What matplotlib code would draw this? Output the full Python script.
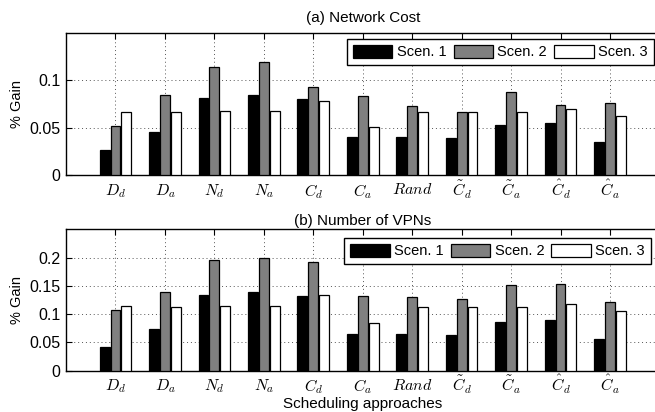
import matplotlib
matplotlib.use("Agg")
import matplotlib.pyplot as plt
from matplotlib.transforms import ScaledTranslation
import numpy as np

plt.rcParams['font.family'] = ['Liberation Sans', 'DejaVu Sans']
plt.rcParams['mathtext.fontset'] = 'cm'

categories = [r'$D_d$', r'$D_a$', r'$N_d$', r'$N_a$', r'$C_d$', r'$C_a$', r'$Rand$',
              r'$\tilde{C}_d$', r'$\tilde{C}_a$', r'$\hat{C}_d$', r'$\hat{C}_a$']
series_names = ['Scen. 1', 'Scen. 2', 'Scen. 3']

cost_s1 = [0.026, 0.0456, 0.0816, 0.0848, 0.080, 0.0406, 0.040, 0.039, 0.0527, 0.0551, 0.035]
cost_s2 = [0.052, 0.0848, 0.1145, 0.1194, 0.093, 0.0837, 0.073, 0.067, 0.0876, 0.0742, 0.076]
cost_s3 = [0.067, 0.067, 0.0675, 0.0675, 0.0777, 0.0509, 0.067, 0.067, 0.067, 0.0696, 0.062]

vpn_s1 = [0.0413, 0.0737, 0.1345, 0.140, 0.1316, 0.065, 0.065, 0.0625, 0.0855, 0.0897, 0.056]
vpn_s2 = [0.108, 0.140, 0.196, 0.1994, 0.1917, 0.1327, 0.131, 0.127, 0.151, 0.1528, 0.121]
vpn_s3 = [0.114, 0.113, 0.114, 0.1145, 0.1333, 0.085, 0.113, 0.113, 0.113, 0.1186, 0.105]

cost_yticks = [0, 0.05, 0.1]
cost_yticklabels = ['0', '0.05', '0.1']
vpn_yticks = [0, 0.05, 0.1, 0.15, 0.2]
vpn_yticklabels = ['0', '0.05', '0.1', '0.15', '0.2']

colors = ['black', '#808080', 'white']

fig = plt.figure(figsize=(6.55, 4.12), dpi=100)
ax1 = fig.add_axes([0.1008, 0.5752, 0.906, 0.3447])
ax2 = fig.add_axes([0.1008, 0.1002, 0.906, 0.3432])

x = np.arange(1, len(categories) + 1)
w = 0.2
offs = [-0.22, 0.0, 0.22]

def draw(ax, data, ylim, yticks, yticklabels, title, legpad, tpad):
    for i, (vals, c, name) in enumerate(zip(data, colors, series_names)):
        ax.bar(x + offs[i], vals, width=w, color=c, edgecolor='black', linewidth=0.9,
               label=name, zorder=3)
    ax.set_xlim(0, 12)
    ax.set_ylim(*ylim)
    ax.set_xticks(x)
    ax.set_xticklabels(categories, fontsize=11.5)
    ax.set_yticks(yticks)
    ax.set_yticklabels(yticklabels, fontsize=11.5)
    ax.tick_params(direction='in', top=True, right=False, length=4, width=0.8)
    ax.tick_params(axis='x', pad=5)
    ax.tick_params(axis='y', pad=4)
    ax.grid(True, linestyle=(0, (1, 3)), color='#555555', linewidth=0.7)
    ax.set_axisbelow(True)
    for s in ax.spines.values():
        s.set_linewidth(1.0)
    ax.set_title(title, fontsize=11, pad=tpad)
    ax.set_ylabel('% Gain', fontsize=10.5, labelpad=4)
    leg = ax.legend(loc='upper right', bbox_to_anchor=(1, 1), ncol=3, fontsize=10.5,
                    handlelength=2.7, handleheight=1.0, handletextpad=0.3,
                    columnspacing=0.5, borderaxespad=legpad, borderpad=0.4,
                    fancybox=False, framealpha=1, edgecolor='black')
    leg.get_frame().set_linewidth(1.0)

draw(ax1, [cost_s1, cost_s2, cost_s3], (0, 0.15), cost_yticks, cost_yticklabels,
     '(a) Network Cost', 0.4, 8)
draw(ax2, [vpn_s1, vpn_s2, vpn_s3], (0, 0.25), vpn_yticks, vpn_yticklabels,
     '(b) Number of VPNs', 0.6, 3)
ax2.set_xlabel('Scheduling approaches', fontsize=11)
ax2.xaxis.set_label_coords(0.5, -0.185)

# align accented labels on the same baseline as the plain ones
fig.canvas.draw()
renderer = fig.canvas.get_renderer()
for ax in (ax1, ax2):
    labels = ax.get_xticklabels()
    href = labels[4].get_window_extent(renderer).height
    for i in range(7, len(labels)):
        h = labels[i].get_window_extent(renderer).height
        dy = (h - href) / fig.dpi
        labels[i].set_transform(labels[i].get_transform() +
                                ScaledTranslation(0, dy, fig.dpi_scale_trans))

fig.savefig('out.png', dpi=100)
